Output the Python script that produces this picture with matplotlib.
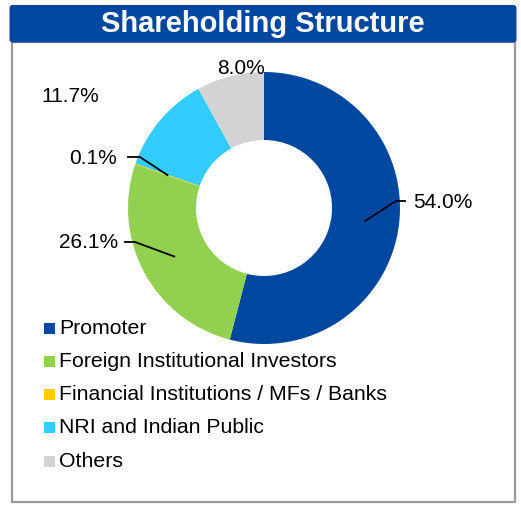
import matplotlib.pyplot as plt
import numpy as np
from matplotlib.patches import FancyBboxPatch, Rectangle

# shareholding data
categories = ['Promoter', 'Foreign Institutional Investors',
              'Financial Institutions / MFs / Banks', 'NRI and Indian Public', 'Others']
shares = [54.0, 26.1, 0.1, 11.7, 8.0]
colors = ['#0047A0', '#92D050', '#FFCC00', '#33CCFF', '#D3D3D3']

W, H = 521, 505
plt.rcParams['font.family'] = ['Liberation Sans', 'DejaVu Sans']

fig = plt.figure(figsize=(W / 100, H / 100), dpi=100)
ax = fig.add_axes([0, 0, 1, 1])
ax.set_xlim(0, W)
ax.set_ylim(0, H)
ax.axis('off')

# outer gray frame and blue title bar
ax.add_patch(Rectangle((11.5, 3), 503.5, 460, facecolor='white', edgecolor='#999999', lw=1.6))
ax.add_patch(FancyBboxPatch((9.5, H - 42.5), 507, 37.5, boxstyle='round,pad=0,rounding_size=3',
                            facecolor='#0047A0', edgecolor='none'))
ax.text(263, H - 24, 'Shareholding Structure', color='white', fontsize=21,
        fontweight='bold', ha='center', va='center')

# donut
cx, cy, R = 264, H - 208, 136
wedges, _ = ax.pie(shares, colors=colors, startangle=90, counterclock=False,
                   center=(cx, cy), radius=R, wedgeprops=dict(width=R * 0.5, linewidth=0),
                   frame=True)
ax.set_xlim(0, W)
ax.set_ylim(0, H)
ax.set_aspect('equal')
ax.axis('off')

# percent labels: (text position, alignment, elbow point, line end) - no line for the top two
label_spec = [
    ((413, H - 202), 'left', (396, H - 201), (405, H - 201)),
    ((118, H - 243), 'right', (135, H - 242), (125, H - 242)),
    ((117, H - 158), 'right', (140, H - 157), (128, H - 157)),
    ((70, H - 97), 'center', None, None),
    ((241, H - 68), 'center', None, None),
]
for w, val, (pos, ha, elbow, end) in zip(wedges, shares, label_spec):
    ax.text(pos[0], pos[1], f'{val:.1f}%', fontsize=15, ha=ha, va='center', color='black')
    if elbow is not None:
        mid = np.deg2rad((w.theta1 + w.theta2) / 2)
        r = R * 0.75
        sx, sy = cx + r * np.cos(mid), cy + r * np.sin(mid)
        ax.plot([sx, elbow[0], end[0]], [sy, elbow[1], end[1]], color='black', lw=1.3)

# legend
for i, (cat, col) in enumerate(zip(categories, colors)):
    y = H - (328 + i * 33.3)
    ax.add_patch(Rectangle((44, y - 5.5), 11, 11, facecolor=col, edgecolor='none'))
    ax.text(59, y, cat, fontsize=15.3, ha='left', va='center', color='black')

fig.savefig('out.png', dpi=100)
